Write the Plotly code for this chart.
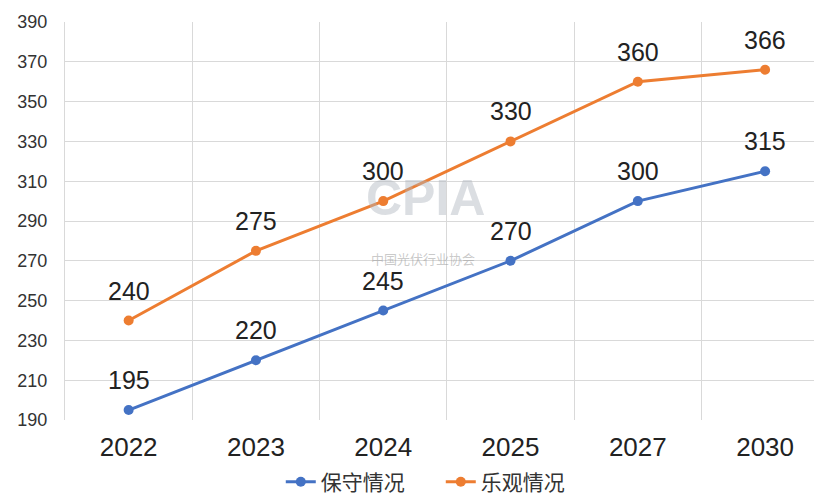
import plotly.graph_objects as go

years = ["2022", "2023", "2024", "2025", "2027", "2030"]
conservative = [195, 220, 245, 270, 300, 315]
optimistic = [240, 275, 300, 330, 360, 366]
y_ticks = list(range(190, 391, 20))

blue = "#4472C4"
orange = "#ED7D31"

fig = go.Figure()
fig.add_trace(go.Scatter(x=years, y=conservative, name="保守情况", mode="lines+markers",
                         line=dict(color=blue, width=3), marker=dict(size=10, color=blue)))
fig.add_trace(go.Scatter(x=years, y=optimistic, name="乐观情况", mode="lines+markers",
                         line=dict(color=orange, width=3), marker=dict(size=10, color=orange)))

ann = []
# faint watermark (drawn first so labels sit on top)
ann.append(dict(x=0.4756, y=0.558, xref="paper", yref="paper", text="<b>CPIA</b>", showarrow=False,
                font=dict(size=50, color="rgba(175,182,190,0.45)", family="Liberation Sans")))
ann.append(dict(x=0.473, y=0.405, xref="paper", yref="paper", text="中国光伏行业协会", showarrow=False,
                font=dict(size=13, color="rgba(150,150,150,0.5)", family="Noto Sans CJK SC")))
for series in (conservative, optimistic):
    for i, v in enumerate(series):
        ann.append(dict(x=i, y=v, xref="x", yref="y", text=str(v), showarrow=False,
                        yanchor="middle", yshift=30,
                        font=dict(size=25, color="#222222", family="Liberation Sans")))

fig.update_layout(
    width=822, height=497,
    margin=dict(l=57, r=8, t=14, b=85),
    paper_bgcolor="white", plot_bgcolor="white",
    showlegend=True,
    legend=dict(orientation="h", xref="container", yref="container",
                x=0.5265, xanchor="center", y=0.046, yanchor="middle",
                font=dict(size=21, color="#333333", family="Noto Sans CJK SC"),
                entrywidth=115, entrywidthmode="pixels",
                tracegroupgap=0),
    annotations=ann,
    xaxis=dict(type="category", range=[-0.5, 5.447], showgrid=True, gridcolor="#D9D9D9",
               gridwidth=1, tickson="boundaries", ticks="", showline=False, zeroline=False,
               automargin=False, ticklabelstandoff=9,
               tickfont=dict(size=26, color="#222222", family="Liberation Sans")),
    yaxis=dict(range=[190, 390], tickvals=y_ticks, showgrid=True, gridcolor="#D9D9D9",
               gridwidth=1, ticks="", showline=True, linecolor="#D9D9D9", linewidth=1,
               zeroline=False, automargin=False,
               tickfont=dict(size=18, color="#333333", family="Liberation Sans"),
               ticklabelstandoff=13),
)

fig.write_html("out.html")
